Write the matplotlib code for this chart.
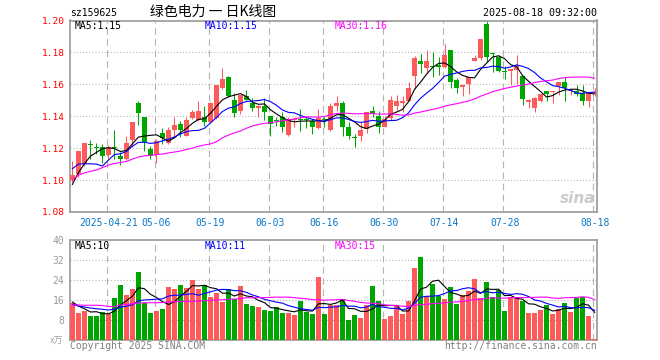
import numpy as np
import matplotlib.pyplot as plt

# daily candles, index 0 = 2025-04-11 ... index 87 = 2025-08-18
opens = [1.1000, 1.1035, 1.1100, 1.1228, 1.1206, 1.1210, 1.1158, 1.1206, 1.1148, 1.1135,
         1.1252, 1.1481, 1.1394, 1.1196, 1.1158, 1.1294, 1.1231, 1.1315, 1.1352, 1.1279,
         1.1390, 1.1377, 1.1398, 1.1367, 1.1388, 1.1579, 1.1648, 1.1502, 1.1435, 1.1527,
         1.1481, 1.1454, 1.1467, 1.1402, 1.1375, 1.1394, 1.1283, 1.1375, 1.1379, 1.1379,
         1.1373, 1.1325, 1.1379, 1.1315, 1.1467, 1.1481, 1.1331, 1.1265, 1.1279, 1.1319,
         1.1433, 1.1402, 1.1335, 1.1388, 1.1465, 1.1485, 1.1498, 1.1654, 1.1746, 1.1700,
         1.1712, 1.1721, 1.1706, 1.1815, 1.1627, 1.1581, 1.1600, 1.1748, 1.1767, 1.1981,
         1.1792, 1.1773, 1.1682, 1.1685, 1.1690, 1.1652, 1.1488, 1.1454, 1.1498, 1.1556,
         1.1550, 1.1592, 1.1613, 1.1556, 1.1558, 1.1548, 1.1496, 1.1548]
highs = [1.1120, 1.1185, 1.1235, 1.1252, 1.1231, 1.1225, 1.1220, 1.1315, 1.1175, 1.1277,
         1.1362, 1.1496, 1.1398, 1.1215, 1.1260, 1.1325, 1.1331, 1.1394, 1.1370, 1.1398,
         1.1440, 1.1496, 1.1465, 1.1488, 1.1598, 1.1704, 1.1654, 1.1544, 1.1535, 1.1565,
         1.1513, 1.1472, 1.1517, 1.1404, 1.1398, 1.1429, 1.1394, 1.1394, 1.1446, 1.1398,
         1.1380, 1.1446, 1.1394, 1.1481, 1.1527, 1.1496, 1.1363, 1.1288, 1.1367, 1.1429,
         1.1465, 1.1433, 1.1402, 1.1527, 1.1533, 1.1527, 1.1613, 1.1779, 1.1788, 1.1815,
         1.1800, 1.1773, 1.1852, 1.1817, 1.1638, 1.1600, 1.1646, 1.1783, 1.1885, 1.1998,
         1.1798, 1.1783, 1.1717, 1.1698, 1.1783, 1.1654, 1.1505, 1.1519, 1.1540, 1.1558,
         1.1552, 1.1615, 1.1644, 1.1571, 1.1596, 1.1596, 1.1550, 1.1575]
lows = [1.0990, 1.1020, 1.1090, 1.1131, 1.1163, 1.1106, 1.1130, 1.1135, 1.1096, 1.1125,
        1.1206, 1.1344, 1.1180, 1.1131, 1.1106, 1.1225, 1.1225, 1.1273, 1.1273, 1.1277,
        1.1385, 1.1370, 1.1340, 1.1362, 1.1380, 1.1570, 1.1520, 1.1398, 1.1415, 1.1500,
        1.1433, 1.1398, 1.1377, 1.1279, 1.1340, 1.1304, 1.1277, 1.1333, 1.1310, 1.1325,
        1.1290, 1.1320, 1.1333, 1.1308, 1.1435, 1.1279, 1.1258, 1.1210, 1.1246, 1.1294,
        1.1394, 1.1298, 1.1330, 1.1377, 1.1440, 1.1425, 1.1495, 1.1569, 1.1669, 1.1669,
        1.1648, 1.1658, 1.1700, 1.1575, 1.1548, 1.1527, 1.1540, 1.1744, 1.1750, 1.1742,
        1.1679, 1.1675, 1.1633, 1.1596, 1.1600, 1.1471, 1.1450, 1.1429, 1.1490, 1.1496,
        1.1481, 1.1533, 1.1496, 1.1533, 1.1527, 1.1471, 1.1460, 1.1530]
closes = [1.1030, 1.1180, 1.1230, 1.1222, 1.1204, 1.1148, 1.1210, 1.1204, 1.1131, 1.1231,
          1.1362, 1.1419, 1.1238, 1.1152, 1.1248, 1.1263, 1.1315, 1.1346, 1.1315, 1.1377,
          1.1429, 1.1433, 1.1367, 1.1485, 1.1596, 1.1633, 1.1529, 1.1419, 1.1533, 1.1502,
          1.1454, 1.1467, 1.1429, 1.1352, 1.1371, 1.1335, 1.1381, 1.1385, 1.1375, 1.1375,
          1.1335, 1.1388, 1.1375, 1.1465, 1.1485, 1.1335, 1.1279, 1.1261, 1.1315, 1.1425,
          1.1415, 1.1335, 1.1383, 1.1502, 1.1496, 1.1498, 1.1579, 1.1767, 1.1727, 1.1746,
          1.1708, 1.1706, 1.1783, 1.1617, 1.1579, 1.1596, 1.1644, 1.1767, 1.1883, 1.1773,
          1.1788, 1.1683, 1.1678, 1.1696, 1.1712, 1.1506, 1.1502, 1.1517, 1.1538, 1.1538,
          1.1552, 1.1613, 1.1579, 1.1563, 1.1540, 1.1496, 1.1548, 1.1550]
# volume in 10k
volumes = [15.0, 10.8, 11.6, 9.6, 9.6, 11.2, 10.4, 16.8, 22.0, 18.0,
           20.5, 27.2, 14.9, 10.8, 11.6, 12.4, 21.3, 20.5, 22.0, 21.0,
           24.0, 20.5, 22.0, 17.2, 18.8, 15.2, 20.4, 16.4, 21.6, 14.4,
           13.6, 13.2, 12.0, 11.6, 13.2, 10.8, 10.8, 10.0, 15.6, 11.2,
           10.4, 25.2, 10.4, 14.0, 14.1, 16.5, 8.0, 10.0, 8.8, 13.9,
           21.6, 15.6, 8.5, 9.6, 13.9, 10.4, 15.6, 28.8, 33.2, 17.6,
           22.4, 17.6, 16.3, 21.2, 14.4, 18.0, 19.6, 24.4, 16.8, 23.2,
           17.2, 20.0, 11.6, 17.2, 17.2, 15.6, 10.8, 10.8, 12.0, 14.0,
           10.4, 12.4, 14.8, 11.2, 16.8, 17.2, 9.6, 0.4]

# moving average values before a full window is available
ma5_head = [1.0973, 1.1046, 1.1102, 1.1150]
ma10_head = [1.1071, 1.1100, 1.1102, 1.1102, 1.1100, 1.1088, 1.1125, 1.1160, 1.1165]
ma30_head = [1.1002, 1.1030, 1.1045, 1.1055, 1.1063, 1.1078, 1.1094, 1.1104, 1.1110, 1.1117,
             1.1131, 1.1145, 1.1152, 1.1155, 1.1160, 1.1163, 1.1170, 1.1176, 1.1182, 1.1192,
             1.1200, 1.1212, 1.1220, 1.1227, 1.1240, 1.1265, 1.1282, 1.1296, 1.1308]
vma5_head = [15.2, 13.6, 12.5, 11.2]
vma10_head = [14.3, 13.6, 13.2, 12.8, 12.5, 12.3, 12.0, 12.3, 13.2]
vma30_head = [14.0, 14.0, 13.9, 13.9, 13.9, 13.8, 13.4, 13.4, 14.0, 14.2,
              14.5, 14.8, 14.9, 14.9, 14.9, 15.0, 15.2, 15.3, 15.4, 15.4,
              15.5, 15.6, 15.7, 15.9, 16.0, 16.1, 16.3, 16.4, 16.5]

tick_idx = [6, 14, 23, 33, 42, 52, 62, 72, 87]
tick_labels = ['2025-04-21', '05-06', '05-19', '06-03', '06-16',
               '06-30', '07-14', '07-28', '08-18']
price_ticks = [1.08, 1.10, 1.12, 1.14, 1.16, 1.18, 1.20]
vol_ticks = [8, 16, 24, 32, 40]

RED = '#ff5a5a'
GREEN = '#00a600'
BORDER = '#a0a0a0'
MONO = 'DejaVu Sans Mono'
W, H = 660, 360


def moving_avg(vals, n, head):
    vals = np.asarray(vals, dtype=float)
    body = np.convolve(vals, np.ones(n) / n, mode='valid')
    return np.concatenate([head, body])


def px(x, y):
    return x / W, 1 - y / H


def style_panel(ax, ylim, grid_vals):
    ax.set_xlim(-0.4, 87.4)
    ax.set_ylim(*ylim)
    for s in ax.spines.values():
        s.set_color(BORDER)
        s.set_linewidth(1.3)
    for g in grid_vals:
        ax.axhline(g, color='#b4b4b4', lw=0.75, ls=(0, (1, 2)), zorder=0)
    for t in tick_idx:
        ax.axvline(t - 0.27, color='#b4b4b4', lw=0.8, ls=(0, (6, 4)), zorder=0)


x = np.arange(len(closes))
o = np.array(opens)
c = np.array(closes)
up = c >= o
cols = [RED if u else GREEN for u in up]

fig = plt.figure(figsize=(W / 100, H / 100), dpi=100)
ax1 = fig.add_axes([70 / W, 148 / H, 527 / W, 191.5 / H])
ax2 = fig.add_axes([70 / W, 20 / H, 527 / W, 100 / H])

# price panel
style_panel(ax1, (1.08, 1.20), [1.10, 1.12, 1.14, 1.16, 1.18])
ax1.vlines(x, lows, highs, colors=cols, lw=0.75, zorder=2)
body_h = np.maximum(np.abs(c - o), 0.0006)
ax1.bar(x, body_h, bottom=np.minimum(o, c), width=0.8, color=cols, lw=0, zorder=3)
ax1.plot(x, moving_avg(closes, 5, ma5_head), color='black', lw=0.8, zorder=4)
ax1.plot(x, moving_avg(closes, 10, ma10_head), color='#0000ff', lw=0.8, zorder=4)
ax1.plot(x, moving_avg(closes, 30, ma30_head), color='#ff00ff', lw=0.8, zorder=4)

ax1.set_yticks(price_ticks)
ax1.set_yticklabels(['%.2f' % v for v in price_ticks], fontfamily=MONO, fontsize=6.8, color='red')
ax1.set_xticks(tick_idx)
ax1.set_xticklabels(tick_labels, fontfamily=MONO, fontsize=7, color='#0a78c8')
ax1.tick_params(length=0, pad=4)
ax1.tick_params(axis='x', pad=4.5)

# volume panel
style_panel(ax2, (0, 40), [8, 16, 24, 32])
ax2.bar(x, volumes, width=0.8, color=cols, lw=0, zorder=3)
ax2.plot(x, moving_avg(volumes, 5, vma5_head), color='black', lw=0.8, zorder=4)
ax2.plot(x, moving_avg(volumes, 10, vma10_head), color='#0000ff', lw=0.8, zorder=4)
ax2.plot(x, moving_avg(volumes, 30, vma30_head), color='#ff00ff', lw=0.8, zorder=4)
ax2.set_yticks(vol_ticks)
ax2.set_yticklabels([str(v) for v in vol_ticks], fontfamily=MONO, fontsize=7, color='#999999')
ax2.set_xticks([])
ax2.tick_params(length=0, pad=4)

# texts
fig.text(*px(70, 13), 'sz159625', fontfamily=MONO, fontsize=7, va='center')
fig.text(*px(150, 12), '绿色电力 一 日K线图', family=['Noto Sans CJK SC', 'DejaVu Sans'],
         fontsize=10, va='center')
fig.text(*px(597, 12.5), '2025-08-18 09:32:00', fontfamily=MONO, fontsize=7.2,
         ha='right', va='center')

for (xx, yy, txt, col) in [(75, 26, 'MA5:1.15', 'black'), (205, 26, 'MA10:1.15', '#0000ff'),
                           (335, 26, 'MA30:1.16', '#ff00ff'), (75, 246, 'MA5:10', 'black'),
                           (205, 246, 'MA10:11', '#0000ff'), (335, 246, 'MA30:15', '#ff00ff')]:
    fig.text(*px(xx, yy), txt, fontfamily=MONO, fontsize=7, color=col, va='center')

fig.text(*px(63, 341), 'x万', family=['Noto Sans CJK SC', 'DejaVu Sans'], fontsize=6.5,
         color='#a0a0a0', ha='right', va='center')
fig.text(*px(70, 346), 'Copyright 2025 SINA.COM', fontfamily=MONO, fontsize=7,
         color='#808080', va='center')
fig.text(*px(597, 346), 'http://finance.sina.com.cn', fontfamily=MONO, fontsize=7,
         color='#808080', ha='right', va='center')
fig.text(*px(595, 198), 'sina', fontsize=11, fontweight='bold', style='italic',
         color='#cccccc', ha='right', va='center')

fig.savefig('out.png', dpi=100)
